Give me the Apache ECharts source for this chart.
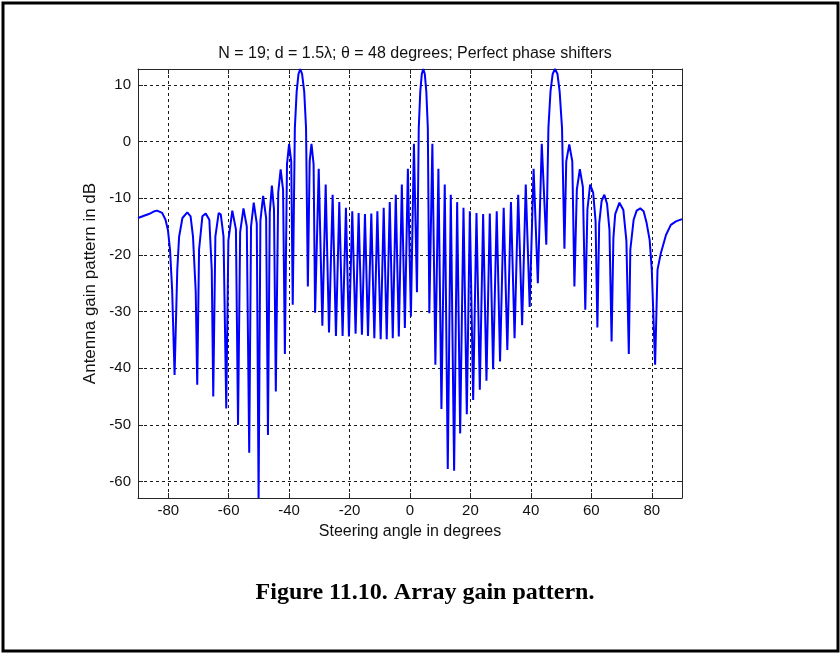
<!DOCTYPE html>
<html>
<head>
<meta charset="utf-8">
<script src="https://cdn.jsdelivr.net/npm/echarts@6/dist/echarts.min.js"></script>
<style>
  html, body { margin: 0; padding: 0; background: #fff; }
  #chart { width: 840px; height: 653px; }
</style>
</head>
<body>
<div id="chart"></div>
<script>
// array gain pattern, N = 19, d = 1.5 lambda, steered to 48 deg
// values read off the figure: lobe peaks and the sampled null depths

const steeringAngle = [
  -90, -88.0, -86.4, -84.5, -83.7, -82.0, -80.9, -80.1, -79.4, -78.7, -78.2, -77.9,
  -77.5, -77.0, -76.4, -75.3, -73.7, -72.6, -71.8, -70.9, -70.4, -69.8, -68.7, -67.6,
  -66.4, -65.6, -65.1, -64.4, -63.3, -62.6, -61.7, -60.8, -60.1, -58.8, -57.6, -56.9,
  -56.2, -55.1, -54.0, -53.2, -52.6, -51.7, -50.7, -50.1, -49.5, -48.6, -47.6, -47.0,
  -46.4, -45.7, -45.0, -44.4, -43.6, -42.8, -42.0, -41.4, -40.7, -40.0, -39.3, -38.8,
  -38.1, -37.5, -36.9, -36.3, -35.7, -35.0, -34.4, -33.8, -33.2, -32.6, -31.9, -31.4,
  -30.2, -29.0, -27.9, -26.8, -25.6, -24.5, -23.4, -22.3, -21.2, -20.2, -19.1, -18.0,
  -17.0, -15.9, -14.9, -13.9, -12.8, -11.8, -10.8, -9.7, -8.7, -7.7, -6.7, -5.7,
  -4.7, -3.7, -2.7, -1.7, -0.7, 0.3, 1.3, 2.3, 2.9, 3.4, 3.9, 4.4,
  4.9, 5.4, 5.9, 6.4, 7.4, 8.4, 9.4, 10.4, 11.5, 12.5, 13.5, 14.6,
  15.6, 16.6, 17.7, 18.8, 19.8, 20.9, 22.0, 23.1, 24.2, 25.3, 26.4, 27.5,
  28.7, 29.8, 31.0, 32.2, 33.4, 34.6, 35.8, 37.1, 38.3, 39.6, 40.9, 42.3,
  43.6, 45.1, 45.8, 46.5, 47.2, 48.0, 48.8, 49.5, 50.3, 51.1, 51.7, 52.7,
  53.7, 54.4, 55.2, 56.2, 57.2, 58.0, 58.7, 59.6, 60.6, 61.4, 62.0, 62.6,
  63.4, 64.3, 65.2, 66.0, 66.7, 67.3, 67.9, 69.3, 70.6, 71.6, 72.4, 72.9,
  74.0, 75.0, 76.2, 77.3, 78.3, 79.3, 80.0, 81.1, 81.9, 83.0, 84.7, 86.3, 88.0, 90.0
];

const gainDb = [
  -13.5, -13.1, -12.8, -12.3, -12.2, -12.6, -13.8, -15.6, -19.1, -26.2, -35.6, -41.2,
  -33.0, -22.6, -16.8, -13.5, -12.5, -13.2, -16.8, -26.5, -42.9, -19.1, -13.2, -12.7,
  -13.8, -22.6, -45.0, -16.8, -12.6, -12.9, -16.8, -47.1, -17.5, -12.2, -15.5, -50.0,
  -16.0, -11.8, -15.0, -54.9, -15.0, -10.8, -14.5, -62.9, -14.0, -9.6, -13.5, -51.8,
  -12.5, -7.8, -12.0, -44.1, -9.0, -4.9, -8.5, -37.5, -4.0, -0.4, -3.5, -28.8,
  2.4, 8.8, 11.9, 12.79, 11.9, 8.8, 2.4, -25.6, -3.5, -0.4, -4.0, -30.2,
  -4.8, -32.5, -7.6, -33.7, -9.4, -34.3, -10.7, -34.3, -11.7, -34.4, -12.3, -33.9,
  -12.6, -34.1, -12.8, -34.3, -12.7, -34.7, -12.3, -34.9, -11.7, -34.9, -10.7, -34.7,
  -9.4, -34.4, -7.6, -32.9, -4.8, -30.9, -0.4, -26.6, 2.4, 8.8, 11.9, 12.79,
  11.9, 8.8, 2.4, -30.3, -0.4, -39.4, -4.8, -47.2, -7.6, -57.8, -9.4, -58.1,
  -10.7, -51.5, -11.7, -48.1, -12.3, -45.6, -12.6, -43.8, -12.8, -42.2, -12.7, -40.2,
  -12.3, -38.8, -11.7, -36.8, -10.7, -34.7, -9.4, -32.4, -7.6, -29.2, -4.8, -25.0,
  -0.4, -18.2, 2.4, 8.9, 11.9, 12.79, 11.9, 8.9, 2.4, -18.9, -3.5, -0.5,
  -3.5, -25.6, -8.5, -4.9, -8.0, -29.7, -12.0, -7.6, -9.0, -14.0, -32.8, -14.5,
  -10.5, -9.4, -11.0, -15.6, -35.3, -17.0, -12.8, -10.8, -12.1, -17.5, -37.5, -19.1,
  -13.8, -12.2, -11.8, -12.3, -14.4, -17.4, -22.6, -39.4, -22.6, -19.7, -16.5, -14.7, -14.1, -13.7
];

const xTicks = [-80, -60, -40, -20, 0, 20, 40, 60, 80];
const yTicks = [-60, -50, -40, -30, -20, -10, 0, 10];

const chartDom = document.getElementById("chart");
const chart = echarts.init(chartDom, null, { renderer: "canvas" });

const points = steeringAngle.map((a, i) => [a, gainDb[i]]);

const frameColor = "#262626";
const gridLine = { show: true, lineStyle: { color: "#1a1a1a", type: [3, 3], width: 1 } };
const tickFont = { color: "#111", fontFamily: "Liberation Sans", fontSize: 15 };
const nameFont = { color: "#111", fontFamily: "Liberation Sans", fontSize: 16 };

// tick marks only (top / right copies of the frame)
function mirrorAxis(pos, ticks, min, max) {
  return {
    type: "value", position: pos, min: min, max: max,
    axisLine: { show: true, onZero: false, lineStyle: { color: frameColor, width: 1 } },
    axisTick: { show: true, inside: true, length: 5, customValues: ticks, lineStyle: { color: frameColor } },
    axisLabel: { show: false, customValues: ticks },
    splitLine: { show: false }
  };
}

const option = {
  animation: false,
  backgroundColor: "#fff",
  title: [
    {
      text: "N = 19; d = 1.5\u03bb; \u03b8 = 48 degrees; Perfect phase shifters",
      left: 410, top: 41, textAlign: "center",
      textStyle: { fontFamily: "Liberation Sans", fontSize: 16, fontWeight: "normal", color: "#111" }
    },
    {
      text: "Figure 11.10. Array gain pattern.",
      left: 420, top: 576, textAlign: "center",
      textStyle: { fontFamily: "Liberation Serif", fontSize: 24, fontWeight: "bold", color: "#000" }
    }
  ],
  grid: { left: 138, right: 158, top: 69, bottom: 155, containLabel: false },
  xAxis: [
    {
      type: "value", min: -90, max: 90, position: "bottom",
      name: "Steering angle in degrees", nameLocation: "middle", nameGap: 26,
      nameTextStyle: nameFont,
      axisLine: { show: true, onZero: false, lineStyle: { color: frameColor, width: 1 } },
      axisTick: { show: true, inside: true, length: 5, customValues: xTicks, lineStyle: { color: frameColor } },
      axisLabel: Object.assign({ customValues: xTicks, margin: 5 }, tickFont),
      splitLine: gridLine
    },
    mirrorAxis("top", xTicks, -90, 90)
  ],
  yAxis: [
    {
      type: "value", min: -62.9, max: 12.79, position: "left",
      name: "Antenna gain pattern in dB", nameLocation: "middle", nameGap: 36,
      nameTextStyle: Object.assign({}, nameFont, { fontSize: 17 }),
      axisLine: { show: true, onZero: false, lineStyle: { color: frameColor, width: 1 } },
      axisTick: { show: true, inside: true, length: 5, customValues: yTicks, lineStyle: { color: frameColor } },
      axisLabel: Object.assign({ customValues: yTicks, margin: 7 }, tickFont),
      splitLine: gridLine
    },
    mirrorAxis("right", yTicks, -62.9, 12.79)
  ],
  graphic: [
    {
      type: "rect", silent: true,
      shape: { x: 3, y: 3, width: 835, height: 648 },
      style: { fill: null, stroke: "#000", lineWidth: 3 }
    }
  ],
  series: [
    {
      type: "line",
      data: points,
      showSymbol: false,
      clip: true,
      lineStyle: { color: "#0000ff", width: 2 },
      itemStyle: { color: "#0000ff" }
    }
  ]
};

chart.setOption(option);
</script>
</body>
</html>
